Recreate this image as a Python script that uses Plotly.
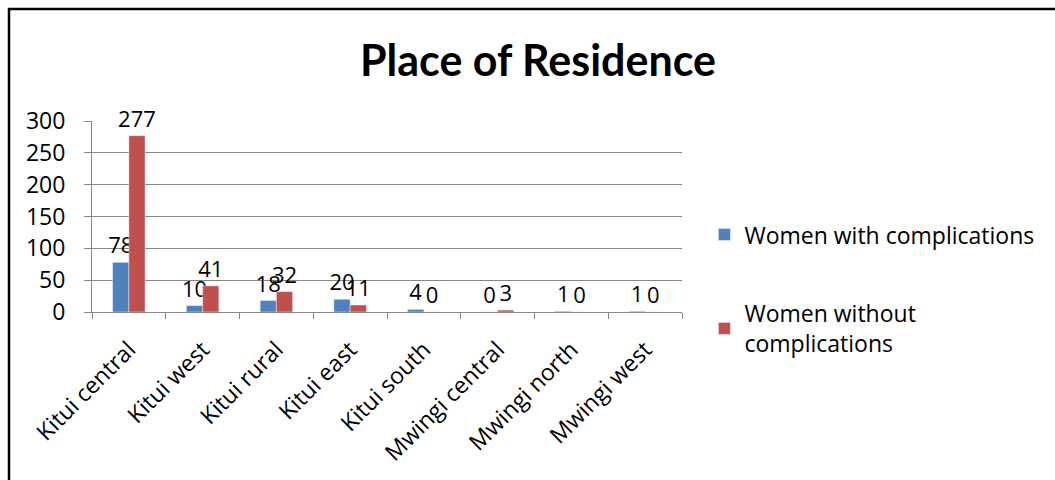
import plotly.graph_objects as go

categories = ["Kitui central", "Kitui west", "Kitui rural", "Kitui east",
              "Kitui south", "Mwingi central", "Mwingi north", "Mwingi west"]
with_comp = [78, 10, 18, 20, 4, 0, 1, 1]
without_comp = [277, 41, 32, 11, 0, 3, 0, 0]

FONT = "Open Sans"
FS = 23

fig = go.Figure()
fig.add_trace(go.Bar(
    x=categories, y=with_comp, name="Women with complications",
    marker_color="#4F81BD", text=with_comp, textposition="outside",
    constraintext="none",
    textfont=dict(size=22, color="black", family=FONT), cliponaxis=False,
    legendgroup="a"))
fig.add_trace(go.Bar(
    x=categories, y=without_comp, name="Women without<br>complications",
    marker_color="#C0504D", text=without_comp, textposition="outside",
    constraintext="none",
    textfont=dict(size=22, color="black", family=FONT), cliponaxis=False,
    legendgroup="b"))

fig.update_layout(
    width=1055, height=480,
    margin=dict(l=92, r=373, t=121, b=168),
    paper_bgcolor="white", plot_bgcolor="white",
    font=dict(family=FONT, size=FS, color="black"),
    title=dict(text="<b>Place of Residence</b>", x=538/1055, xref="container",
               xanchor="center", y=1 - 61/480, yref="container", yanchor="middle",
               font=dict(size=43, family="Lato", color="black")),
    barmode="group", bargap=0.56, bargroupgap=0,
    showlegend=True,
    legend=dict(x=1.038, xanchor="left", y=0.12, yanchor="middle",
                font=dict(size=FS, family=FONT, color="black"),
                tracegroupgap=46, bgcolor="rgba(0,0,0,0)"),
    xaxis=dict(type="category", tickangle=-45, showline=True, linecolor="#868686",
               linewidth=1, ticks="outside", tickson="boundaries", ticklen=6,
               tickcolor="#868686", showgrid=False, ticklabelstandoff=14,
               tickfont=dict(size=FS, family=FONT, color="black")),
    yaxis=dict(range=[0, 300], dtick=50, showline=True, linecolor="#868686",
               linewidth=1, ticks="outside", ticklen=7, tickcolor="#868686",
               showgrid=True, gridcolor="#868686", gridwidth=1, zeroline=False,
               ticklabelstandoff=14,
               tickfont=dict(size=FS, family=FONT, color="black")),
    shapes=[dict(type="rect", xref="paper", yref="paper",
                 x0=(9 - 92) / 590, x1=(1070 - 92) / 590,
                 y0=-(500 - 312) / 191, y1=(312 - 9) / 191,
                 line=dict(color="black", width=2.5), fillcolor="rgba(0,0,0,0)",
                 layer="above")],
)

fig.write_html("out.html")
